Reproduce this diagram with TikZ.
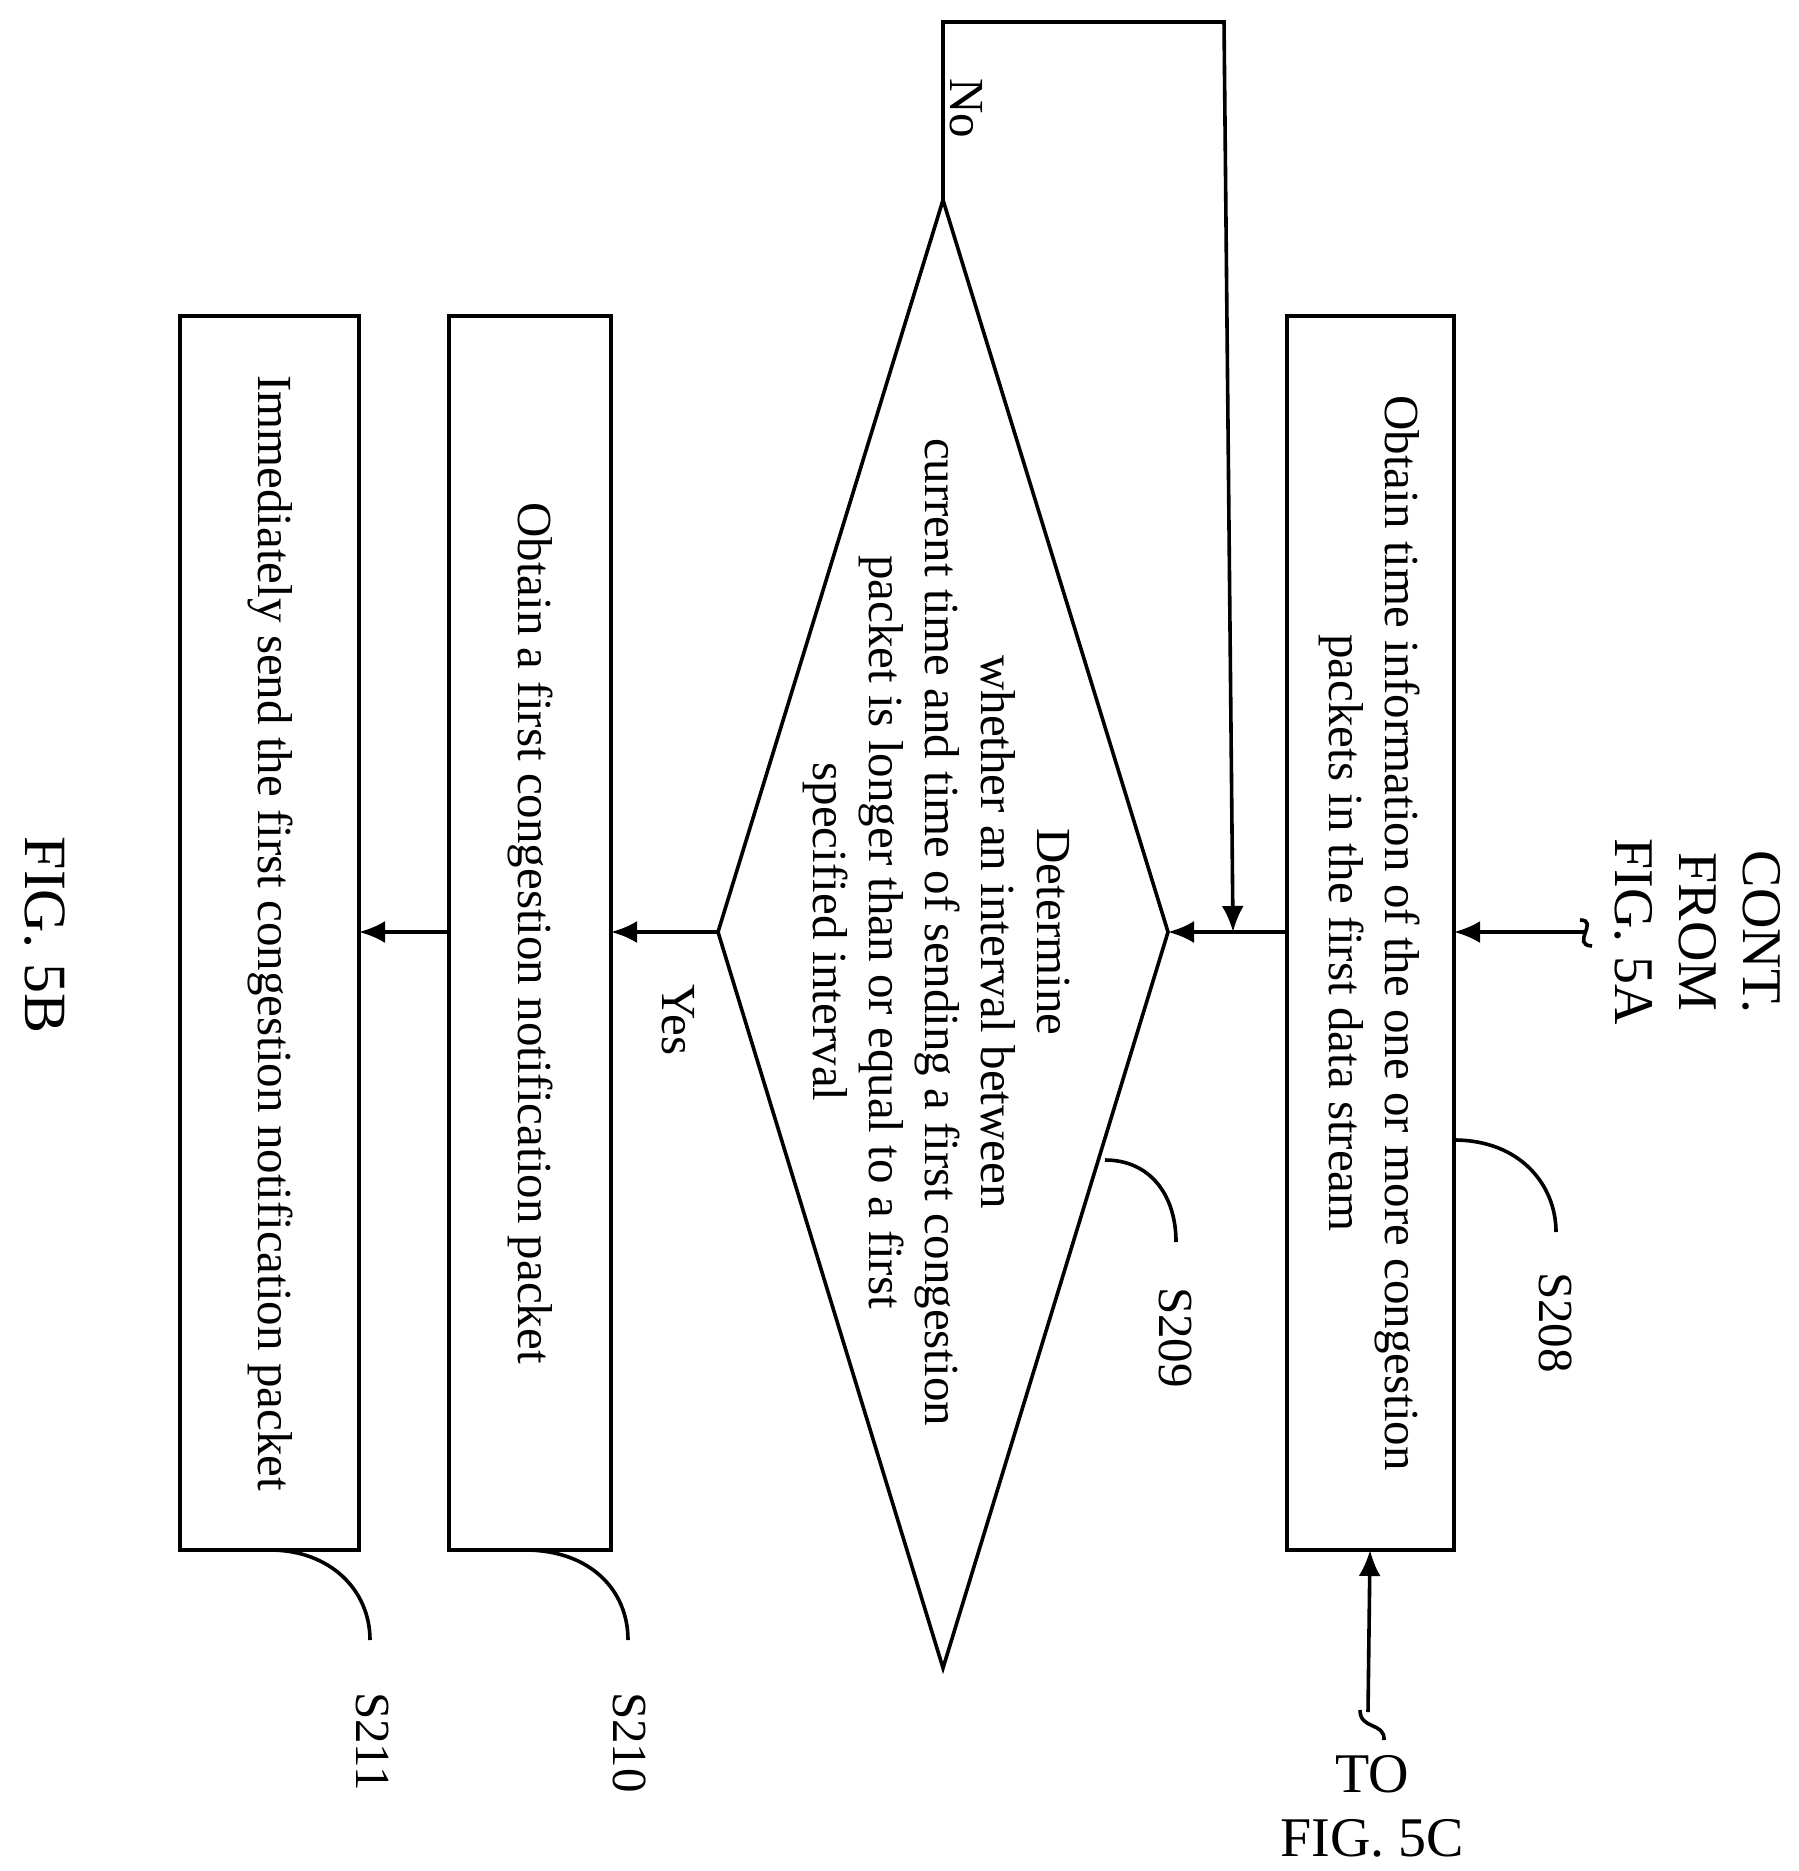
\documentclass[tikz,border=0pt]{standalone}
\usepackage{fontspec}
\setmainfont{Liberation Serif}
\usetikzlibrary{arrows.meta}
\begin{document}
\begin{tikzpicture}[x=0.5pt,y=-0.5pt,
  every node/.style={font=\fontsize{24.5}{28}\selectfont},
  box/.style={draw,line width=1.8pt},
  rt/.style={rotate=-90,align=center},
  arr/.style={line width=1.8pt,-{Latex[length=13pt,width=11pt]}},
  ln/.style={line width=1.8pt}]
\useasboundingbox (0,0) rectangle (1798,1871);
% boxes
\draw[box] (1287,316) rectangle (1454,1550);
\draw[box] (449,316) rectangle (611,1550);
\draw[box] (180,316) rectangle (359,1550);
\coordinate (b8l) at (1287,932); \coordinate (b8r) at (1454,932); \coordinate (b8b) at (1370,1550);
\coordinate (b10l) at (449,932); \coordinate (b10r) at (611,932);
\coordinate (b11r) at (359,932);
\node[rt] (t8) at (1370,933) {Obtain time information of the one or more congestion\\packets in the first data stream};
\node[rt] (t10) at (530,933) {Obtain a first congestion notification packet};
\node[rt] (t11) at (270,933) {Immediately send the first congestion notification packet};
% diamond
\coordinate (dt) at (943,200); \coordinate (db) at (943,1668);
\coordinate (dl) at (718,932); \coordinate (dr) at (1168,932);
\draw[ln] (dt) -- (dr) -- (db) -- (dl) -- cycle;
\node[rt] (t9) at (936,932) {Determine\\whether an interval between\\current time and time of sending a first congestion\\packet is longer than or equal to a first\\specified interval};
% connectors
\draw[arr] (b8l) -- (dr);
\draw[arr] (dl) -- (b10r);
\draw[arr] (b10l) -- (b11r);
\coordinate (l1) at (943,22); \coordinate (l2) at (1224,22); \coordinate (l3) at (1233,932);
\draw[arr] (dt) -- (l1) -- (l2) -- (l3);
\node[rt] (no) at (966,108) {No};
\node[rt] (yes) at (678,1020) {Yes};
% off-page
\node[rt,anchor=south,font=\fontsize{28}{32}\selectfont] (cont) at (1608,932) {CONT.\\FROM\\FIG. 5A};
\coordinate (c1) at (1585,932);
\draw[arr] (c1) -- (b8r);
\draw[ln] (1580,920) .. controls (1600,920) and (1570,945) .. (1592,946);
\node[align=center,anchor=north,font=\fontsize{28}{32}\selectfont] (to) at (1372,1748) {TO\\FIG. 5C};
\coordinate (c2) at (1368,1712);
\draw[arr] (c2) -- (b8b);
\draw[ln] (1360,1710) .. controls (1360,1730) and (1385,1722) .. (1384,1740);
% step labels
\draw[ln] (1454,1140) .. controls (1520,1140) and (1556,1185) .. (1556,1232);
\node[rt,anchor=west] (s208) at (1556,1265) {S208};
\draw[ln] (1105,1160) .. controls (1150,1160) and (1176,1195) .. (1176,1242);
\node[rt,anchor=west] (s209) at (1176,1280) {S209};
\draw[ln] (525,1550) .. controls (590,1550) and (628,1590) .. (628,1640);
\node[rt,anchor=west] (s210) at (630,1685) {S210};
\draw[ln] (270,1550) .. controls (330,1550) and (370,1590) .. (370,1640);
\node[rt,anchor=west] (s211) at (372,1685) {S211};
\node[rt,font=\fontsize{30}{34}\selectfont] (fig) at (45,935) {FIG. 5B};
\end{tikzpicture}
\end{document}
